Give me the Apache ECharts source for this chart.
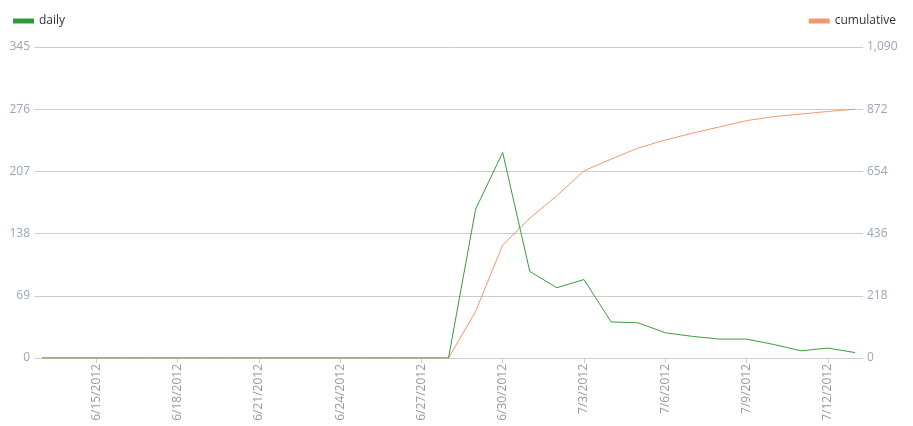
<!DOCTYPE html>
<html>
<head>
<meta charset="utf-8">
<script src="https://cdn.jsdelivr.net/npm/echarts@6/dist/echarts.min.js"></script>
<style>
  html, body { margin: 0; padding: 0; background: #fff; }
  #main { width: 913px; height: 426px; }
</style>
</head>
<body>
<div id="main"></div>
<script>
// dates 6/13/2012 .. 7/13/2012
const dates = ['6/13/2012','6/14/2012','6/15/2012','6/16/2012','6/17/2012','6/18/2012','6/19/2012','6/20/2012',
  '6/21/2012','6/22/2012','6/23/2012','6/24/2012','6/25/2012','6/26/2012','6/27/2012','6/28/2012',
  '6/29/2012','6/30/2012','7/1/2012','7/2/2012','7/3/2012','7/4/2012','7/5/2012','7/6/2012',
  '7/7/2012','7/8/2012','7/9/2012','7/10/2012','7/11/2012','7/12/2012','7/13/2012'];

const daily = [0,0,0,0,0,0,0,0,0,0,0,0,0,0,0,0,
  165,228,96,78,87,40,39,28,24,21,21,15,8,11,6];

const cumulative = [0,0,0,0,0,0,0,0,0,0,0,0,0,0,0,0,
  163,396,490,569,656,697,736,764,788,810,832,846,855,864,872];

// axis scales
const leftMax = 345, leftStep = 69;
const rightMax = 1090, rightStep = 218;

const fontFam = '"Open Sans", "Segoe UI", sans-serif';
const chart = echarts.init(document.getElementById('main'));

const showLabel = (i) => (i - 2) % 3 === 0;

chart.setOption({
  animation: false,
  textStyle: { fontFamily: fontFam },
  legend: [
    {
      data: ['daily'], left: 8, top: 10,
      itemWidth: 21, itemHeight: 5, itemGap: 5,
      icon: 'rect',
      textStyle: { color: '#333', fontSize: 12, fontFamily: fontFam }
    },
    {
      data: ['cumulative'], right: 12, top: 10,
      itemWidth: 21, itemHeight: 5,
      icon: 'rect',
      textStyle: { color: '#333', fontSize: 12, fontFamily: fontFam }
    }
  ],
  grid: { left: 42, right: 58, top: 47, bottom: 68, containLabel: false },
  xAxis: {
    type: 'category',
    data: dates,
    boundaryGap: false,
    axisLine: { lineStyle: { color: '#ccc' } },
    axisTick: { interval: showLabel, length: 5, lineStyle: { color: '#ccc' } },
    axisLabel: {
      interval: showLabel, rotate: 90, color: '#999', fontSize: 12,
      margin: 6, fontFamily: fontFam
    },
    splitLine: { show: false }
  },
  yAxis: [
    {
      type: 'value', min: 0, max: leftMax, interval: leftStep,
      axisLine: { show: false },
      axisTick: { show: true, length: 8, lineStyle: { color: '#ccc' } },
      axisLabel: { color: '#9aa5bb', fontSize: 12, margin: 12, fontFamily: fontFam },
      splitLine: { lineStyle: { color: '#ccc' } }
    },
    {
      type: 'value', min: 0, max: rightMax, interval: rightStep,
      axisLine: { show: false },
      axisTick: { show: true, length: 8, lineStyle: { color: '#ccc' } },
      axisLabel: {
        color: '#9aa5bb', fontSize: 12, margin: 12, fontFamily: fontFam,
        formatter: (v) => v.toLocaleString('en-US')
      },
      splitLine: { show: false }
    }
  ],
  series: [
    {
      name: 'cumulative', type: 'line', yAxisIndex: 1, data: cumulative,
      symbol: 'none', color: '#f4976c',
      lineStyle: { width: 1, color: '#f4976c' }
    },
    {
      name: 'daily', type: 'line', yAxisIndex: 0, data: daily,
      symbol: 'none', color: '#2f9a38',
      lineStyle: { width: 1, color: '#3a9d3f' }
    }
  ]
});
</script>
</body>
</html>
